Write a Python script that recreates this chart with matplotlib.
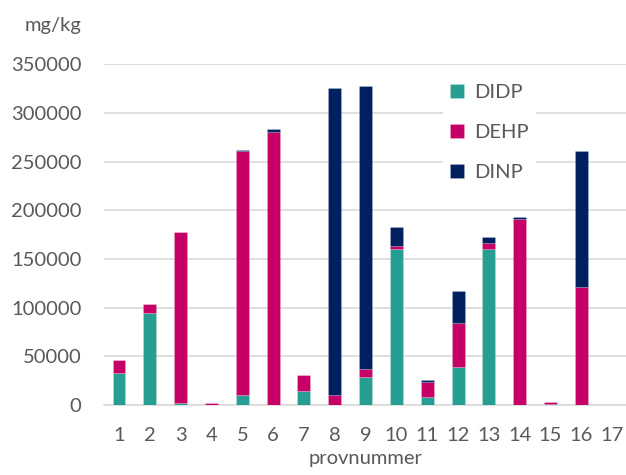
import matplotlib
matplotlib.use("Agg")
import matplotlib.pyplot as plt
import numpy as np

categories = [str(i) for i in range(1, 18)]
didp = [33000, 95000, 2500, 0, 10000, 0, 14500, 0, 29000, 160000, 8500, 39000, 160000, 0, 1500, 0, 0]
dehp = [13000, 9000, 175500, 2000, 250500, 280000, 16500, 10000, 8500, 3000, 15000, 45000, 6000, 191000, 1500, 121000, 0]
dinp = [0, 0, 0, 0, 1500, 3000, 0, 316000, 290000, 19500, 2000, 33000, 7000, 1800, 500, 140000, 0]
yticks = [0, 50000, 100000, 150000, 200000, 250000, 300000, 350000]

c_didp = "#279E92"
c_dehp = "#C60066"
c_dinp = "#002060"
txt = "#595959"

plt.rcParams['font.family'] = ['Lato', 'DejaVu Sans']

fig = plt.figure(figsize=(6.26, 4.75), dpi=100)
ax = fig.add_axes([0.1655, 0.147, 0.837, 0.718])

x = np.arange(1, len(categories) + 1)
w = 0.42
ec = (1, 1, 1, 0.3)
b1 = ax.bar(x, didp, w, color=c_didp, edgecolor=ec, linewidth=0.4, label="DIDP", zorder=3)
b2 = ax.bar(x, dehp, w, bottom=didp, color=c_dehp, edgecolor=ec, linewidth=0.4, label="DEHP", zorder=3)
bot = np.array(didp) + np.array(dehp)
b3 = ax.bar(x, dinp, w, bottom=bot, color=c_dinp, edgecolor=ec, linewidth=0.4, label="DINP", zorder=3)

ax.set_xlim(0.5, 17.5)
ax.set_ylim(0, 350000)
ax.set_yticks(yticks)
ax.set_yticklabels([str(v) for v in yticks])
ax.set_xticks(x)
ax.set_xticklabels(categories)
ax.grid(axis='y', color="#D9D9D9", linewidth=1.2, zorder=0)
ax.set_axisbelow(True)
for s in ['top', 'right', 'left']:
    ax.spines[s].set_visible(False)
ax.spines['bottom'].set_color("#D9D9D9")
ax.spines['bottom'].set_linewidth(1.2)
ax.tick_params(axis='both', length=0, labelsize=14.5, colors=txt)
ax.tick_params(axis='y', pad=16)
ax.tick_params(axis='x', pad=16)

ax.set_xlabel("provnummer", fontsize=14.5, color=txt, labelpad=4)
fig.text(82 / 626, 1 - 25 / 475, "mg/kg", ha='right', va='center', fontsize=14.5, color=txt)

leg = ax.legend(handles=[b1, b2, b3], loc='upper left', bbox_to_anchor=(0.629, 0.993),
                frameon=True, facecolor='white', edgecolor='none', framealpha=1,
                fontsize=14.5, labelspacing=1.15, handlelength=0.7, handleheight=0.7,
                handletextpad=0.5, borderpad=0.35, fancybox=False)
for t in leg.get_texts():
    t.set_color(txt)
leg.set_zorder(5)

fig.savefig("out.png", dpi=100, facecolor='white')
